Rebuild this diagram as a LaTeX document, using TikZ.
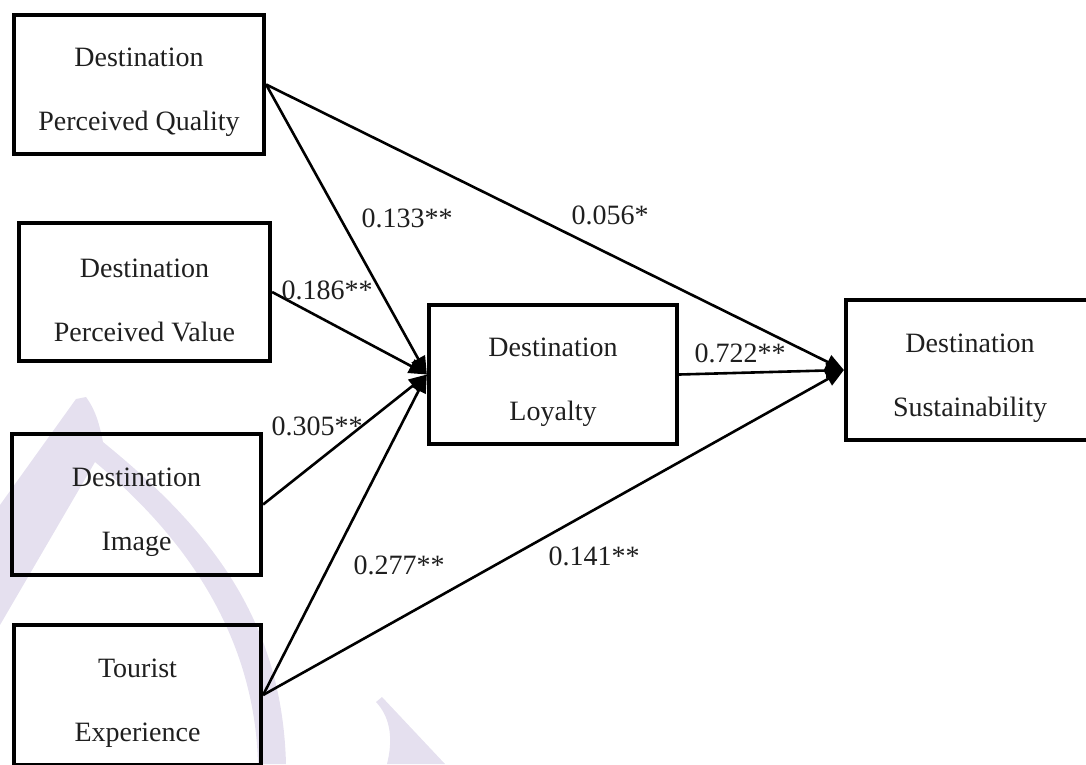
\documentclass[tikz,border=0pt]{standalone}
\usepackage{fontspec}
\setmainfont{Liberation Serif}
\usetikzlibrary{arrows.meta}
\definecolor{wmark}{RGB}{229,224,239}
% two-line label; the strut lowers the block to sit like the original layout
\newcommand\twolines[2]{\rule{0pt}{35pt}#1\\#2}
\begin{document}
\begin{tikzpicture}[x=1pt,y=-1pt,
  construct/.style={draw=black, line width=4.2pt, rectangle, inner sep=0pt,
    align=center, font=\fontsize{28}{64}\selectfont, text=black!88},
  link/.style={line width=2.6pt, -{Triangle[length=18pt,width=15pt]}},
  coef/.style={font=\fontsize{28}{34}\selectfont, inner sep=0pt, text=black!88}]
\useasboundingbox (0,0) rectangle (1086,764);
\clip (0,0) rectangle (1086,764);

% background mark
\fill[wmark] (0,505) -- (76,399) -- (86,397) .. controls (97,412) and (100,428) .. (103,442)
  .. controls (205,525) and (282,615) .. (286,764)
  -- (258,764) .. controls (255,645) and (195,545) .. (95,462) -- (0,625) -- cycle;
\fill[wmark] (376,702) -- (382,697) -- (445,764) -- (387,764)
  .. controls (393,740) and (391,718) .. (376,702) -- cycle;

% constructs
\node[construct, minimum width=250pt, minimum height=139pt] (dpq) at (139,84.5)
  {\twolines{Destination}{Perceived Quality}};
\node[construct, minimum width=251pt, minimum height=138pt] (dpv) at (144.5,292)
  {\twolines{Destination}{Perceived Value}};
\node[construct, minimum width=249pt, minimum height=141pt] (di) at (136.5,504.5)
  {\twolines{Destination}{Image}};
\node[construct, minimum width=247pt, minimum height=140pt] (te) at (137.5,695)
  {\twolines{Tourist}{Experience}};
\node[construct, minimum width=248pt, minimum height=139pt] (dl) at (553,374.5)
  {\twolines{Destination}{Loyalty}};
\node[construct, minimum width=248pt, minimum height=140pt] (ds) at (970,370)
  {\twolines{Destination}{Sustainability}};

% paths
\draw[link] (dpq.east) -- (dl.west);
\draw[link] (dpv.east) -- (dl.west);
\draw[link] (di.east) -- (dl.west);
\draw[link] (te.east) -- (dl.west);
\draw[link] (dpq.east) -- (ds.west);
\draw[link] (dl.east) -- (ds.west);
\draw[link] (te.east) -- (ds.west);

% path coefficients
\node[coef] (c133) at (407,218) {0.133**};
\node[coef] (c056) at (610,215) {0.056*};
\node[coef] (c186) at (327,290) {0.186**};
\node[coef] (c722) at (740,353) {0.722**};
\node[coef] (c305) at (317,426) {0.305**};
\node[coef] (c277) at (399,565) {0.277**};
\node[coef] (c141) at (594,556) {0.141**};
\end{tikzpicture}
\end{document}
